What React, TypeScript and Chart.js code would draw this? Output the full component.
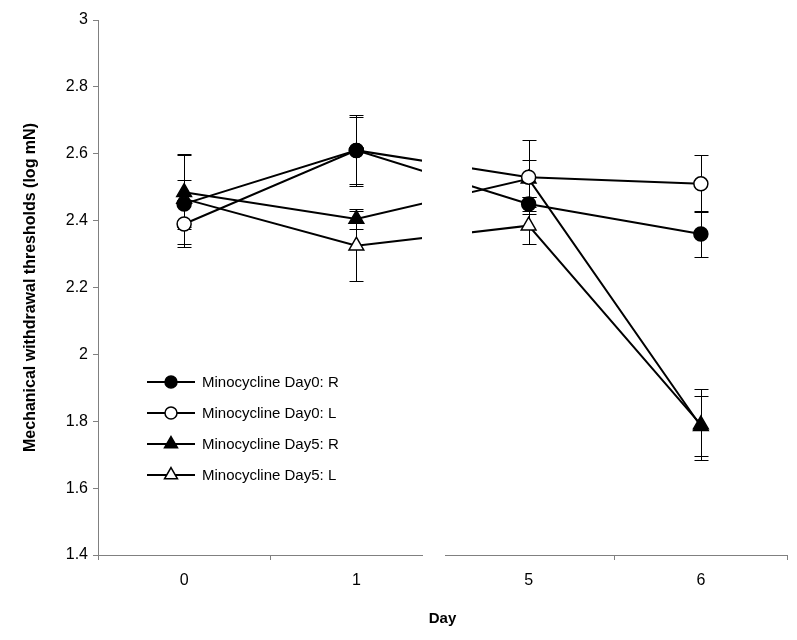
import React, { useEffect, useRef } from "react";
import { Chart, registerables } from "chart.js";

Chart.register(...registerables);

const days = ["0", "1", "5", "6"];
const seriesNames = [
  "Minocycline Day0: R",
  "Minocycline Day0: L",
  "Minocycline Day5: R",
  "Minocycline Day5: L",
];
const day0R = [2.45, 2.61, 2.45, 2.36];
const day0RErr = [0.07, 0.105, 0.02, 0.07];
const day0L = [2.39, 2.61, 2.53, 2.51];
const day0LErr = [0.07, 0.1, 0.11, 0.085];
const day5R = [2.485, 2.405, 2.525, 1.785];
const day5RErr = [0.11, 0.03, 0.055, 0.09];
const day5L = [2.465, 2.325, 2.385, 1.79];
const day5LErr = [0.135, 0.105, 0.055, 0.105];

const yMin = 1.4;
const yMax = 3;
const yStep = 0.2;

const FONT = "'Liberation Sans', Arial, sans-serif";

const seriesValues = [day0R, day0L, day5R, day5L];
const seriesErrors = [day0RErr, day0LErr, day5RErr, day5LErr];
const seriesFilled = [true, false, true, false];
const seriesShape = ["circle", "circle", "triangle", "triangle"];

function drawMarker(ctx: CanvasRenderingContext2D, shape: string, filled: boolean, x: number, y: number, r: number) {
  ctx.save();
  ctx.beginPath();
  if (shape === "circle") {
    ctx.arc(x, y, r, 0, Math.PI * 2);
  } else {
    let rad = 0;
    ctx.moveTo(x + Math.sin(rad) * r, y - Math.cos(rad) * r);
    rad += (2 * Math.PI) / 3;
    ctx.lineTo(x + Math.sin(rad) * r, y - Math.cos(rad) * r);
    rad += (2 * Math.PI) / 3;
    ctx.lineTo(x + Math.sin(rad) * r, y - Math.cos(rad) * r);
    ctx.closePath();
  }
  ctx.fillStyle = filled ? "#000" : "#fff";
  ctx.fill();
  ctx.lineWidth = 1.5;
  ctx.strokeStyle = "#000";
  ctx.stroke();
  ctx.restore();
}

const errorBarPlugin = {
  id: "errorBars",
  beforeDatasetsDraw(chart: any) {
    const ctx = chart.ctx as CanvasRenderingContext2D;
    const xs = chart.scales.x;
    const ys = chart.scales.y;
    ctx.save();
    ctx.strokeStyle = "#000";
    ctx.lineWidth = 1;
    seriesValues.forEach((vals, si) => {
      vals.forEach((v, i) => {
        const e = seriesErrors[si][i];
        const x = Math.round(xs.getPixelForValue(i)) + 0.5;
        const yt = Math.round(ys.getPixelForValue(v + e)) + 0.5;
        const yb = Math.round(ys.getPixelForValue(v - e)) + 0.5;
        ctx.beginPath();
        ctx.moveTo(x, yt);
        ctx.lineTo(x, yb);
        ctx.moveTo(x - 7, yt);
        ctx.lineTo(x + 7, yt);
        ctx.moveTo(x - 7, yb);
        ctx.lineTo(x + 7, yb);
        ctx.stroke();
      });
    });
    ctx.restore();
  },
};

const breakPlugin = {
  id: "axisBreak",
  afterDatasetsDraw(chart: any) {
    const ctx = chart.ctx as CanvasRenderingContext2D;
    const area = chart.chartArea;
    ctx.save();
    ctx.fillStyle = "#fff";
    ctx.fillRect(422, area.top, 50, area.bottom - area.top - 2);
    ctx.fillRect(423, area.bottom - 3, 22, 12);
    ctx.restore();
  },
};

const legendPlugin = {
  id: "insideLegend",
  afterDraw(chart: any) {
    const ctx = chart.ctx as CanvasRenderingContext2D;
    const rowsY = [382, 413, 444, 475];
    ctx.save();
    seriesNames.forEach((name, i) => {
      const y = rowsY[i];
      ctx.strokeStyle = "#000";
      ctx.lineWidth = 2;
      ctx.beginPath();
      ctx.moveTo(147, y);
      ctx.lineTo(195, y);
      ctx.stroke();
      drawMarker(ctx, seriesShape[i], seriesFilled[i], 171, y, seriesShape[i] === "circle" ? 6 : 7.5);
      ctx.fillStyle = "#000";
      ctx.font = `15px ${FONT}`;
      ctx.textAlign = "left";
      ctx.textBaseline = "middle";
      ctx.fillText(name, 202, y + 1);
    });
    ctx.restore();
  },
};

export default function App() {
  const ref = useRef<HTMLCanvasElement>(null);

  useEffect(() => {
    if (!ref.current) return;
    const datasets = seriesNames.map((name, i) => ({
      label: name,
      data: seriesValues[i],
      borderColor: "#000",
      borderWidth: 2,
      backgroundColor: seriesFilled[i] ? "#000" : "#fff",
      pointStyle: seriesShape[i] as any,
      pointRadius: seriesShape[i] === "circle" ? 7 : 8.5,
      pointBorderWidth: 1.5,
      pointBorderColor: "#000",
      pointBackgroundColor: seriesFilled[i] ? "#000" : "#fff",
      tension: 0,
      fill: false,
    }));

    const chart = new Chart(ref.current, {
      type: "line",
      data: { labels: days, datasets },
      plugins: [errorBarPlugin, breakPlugin, legendPlugin],
      options: {
        responsive: false,
        animation: false,
        layout: { padding: { left: 0, right: 7, top: 20, bottom: 0 } },
        plugins: {
          legend: { display: false },
          tooltip: { enabled: false },
        },
        scales: {
          x: {
            type: "category",
            offset: true,
            grid: {
              offset: true,
              drawOnChartArea: false,
              drawTicks: true,
              tickLength: 5,
              color: "#808080",
            },
            border: { color: "#808080", width: 1 },
            ticks: {
              color: "#000",
              font: { family: FONT, size: 16 },
              padding: 11,
            },
            title: {
              display: true,
              text: "Day",
              color: "#000",
              font: { family: FONT, size: 15, weight: "bold" },
              padding: { top: 0, bottom: 12 },
            },
            afterFit(scale: any) {
              scale.height = 85;
            },
          },
          y: {
            min: yMin,
            max: yMax,
            grid: {
              drawOnChartArea: false,
              drawTicks: true,
              tickLength: 5,
              color: "#808080",
            },
            border: { color: "#808080", width: 1 },
            ticks: {
              stepSize: yStep,
              color: "#000",
              font: { family: FONT, size: 16 },
              padding: 5,
              callback: (v: any) => String(parseFloat(Number(v).toFixed(1))),
            },
            title: {
              display: true,
              text: "Mechanical withdrawal thresholds (log mN)",
              color: "#000",
              font: { family: FONT, size: 16, weight: "bold" },
              padding: { top: 21, bottom: 0 },
            },
            afterFit(scale: any) {
              scale.width = 98;
            },
          },
        },
      },
    });
    return () => chart.destroy();
  }, []);

  return (
    <div style={{ position: "absolute", left: 0, top: 0, width: 797, height: 640, background: "#fff" }}>
      <canvas ref={ref} width={797} height={640} style={{ display: "block" }} />
    </div>
  );
}
